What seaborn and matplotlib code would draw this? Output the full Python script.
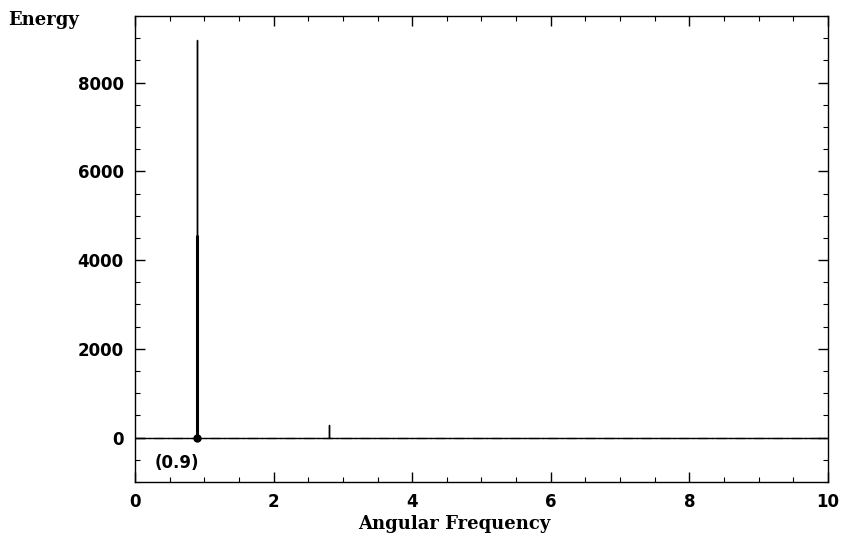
import matplotlib
matplotlib.use("Agg")
import matplotlib.pyplot as plt
import seaborn as sns
import pandas as pd
from matplotlib.ticker import MultipleLocator

# Spectrum data (angular frequency vs energy)
freq = [0.0, 0.9, 0.9, 0.9, 2.8, 2.8, 2.8, 10.0]
energy = [0, 0, 8950, 0, 0, 280, 0, 0]
# lower, heavier part of the main peak
peak_freq = [0.9, 0.9]
peak_energy = [0, 4550]
peak_label = "(0.9)"
peak_x = 0.9

x_ticks = [0, 2, 4, 6, 8, 10]
y_ticks = [0, 2000, 4000, 6000, 8000]

sns.set_theme(style="white")
plt.rcParams['font.family'] = ['DejaVu Sans']
plt.rcParams['text.color'] = 'black'
plt.rcParams['xtick.color'] = 'black'
plt.rcParams['ytick.color'] = 'black'

fig = plt.figure(figsize=(8.42, 5.39), dpi=100)
ax = fig.add_axes([0.1603, 0.1058, 0.8231, 0.8645])

df = pd.DataFrame({"freq": freq, "energy": energy})
sns.lineplot(data=df, x="freq", y="energy", estimator=None, sort=False,
             color="black", linewidth=1.0, ax=ax)
dfp = pd.DataFrame({"freq": peak_freq, "energy": peak_energy})
sns.lineplot(data=dfp, x="freq", y="energy", estimator=None, sort=False,
             color="black", linewidth=2.2, ax=ax)
ax.plot([peak_x], [0], marker="o", markersize=5, color="black")

ax.axhline(0, color="black", linewidth=0.9, linestyle=(0, (8, 3, 1, 3)))

ax.set_xlim(0, 10)
ax.set_ylim(-1000, 9500)
ax.set_xticks(x_ticks)
ax.set_yticks(y_ticks)
ax.xaxis.set_minor_locator(MultipleLocator(0.5))
ax.yaxis.set_minor_locator(MultipleLocator(500))
ax.tick_params(which="both", direction="in", top=True, right=True,
               bottom=True, left=True, color="black", labelcolor="black")
ax.tick_params(which="major", length=7, width=1.0, labelsize=12, pad=8)
ax.tick_params(which="minor", length=3.5, width=0.8)
for lab in ax.get_xticklabels() + ax.get_yticklabels():
    lab.set_fontweight("bold")
for s in ax.spines.values():
    s.set_color("black")
    s.set_linewidth(1.0)

ax.set_xlabel("")
ax.set_ylabel("")

ax.text(0.6, -570, peak_label, ha="center", va="center",
        fontsize=12, fontweight="bold", color="black")

fig.text(0.01, 0.963, "Energy", ha="left", va="center",
         fontsize=13, fontweight="bold", family="DejaVu Serif", color="black")
fig.text(0.54, 0.028, "Angular Frequency", ha="center", va="center",
         fontsize=13, fontweight="bold", family="DejaVu Serif", color="black")

fig.savefig("out.png", dpi=100)
